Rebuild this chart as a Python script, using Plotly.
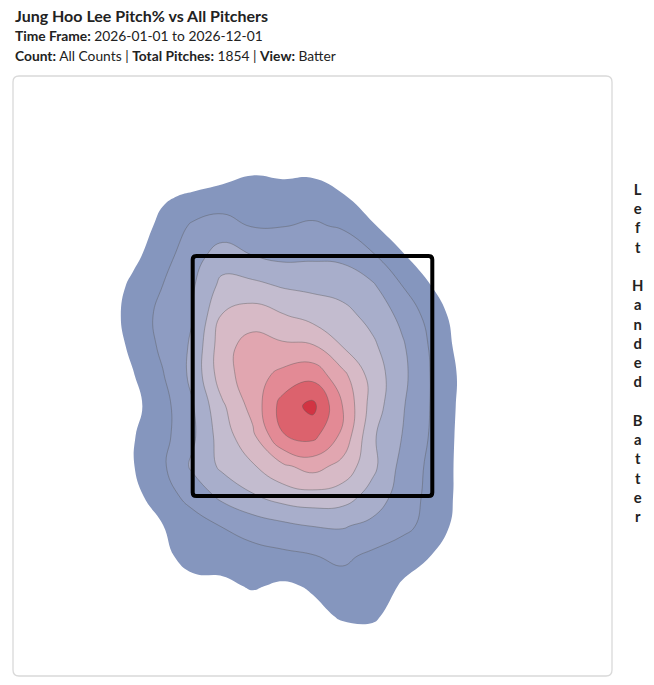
import plotly.graph_objects as go

# plate location grid (feet, catcher/batter view) and estimated density level
plate_x = [-1.75, -1.5, -1.25, -1.0, -0.75, -0.5, -0.25, 0.0, 0.25, 0.5, 0.75, 1.0, 1.25, 1.5]
plate_z = [4.0, 3.75, 3.5, 3.25, 3.0, 2.75, 2.5, 2.25, 2.0, 1.75, 1.5, 1.25, 1.0, 0.75, 0.5, 0.25, 0.0, -0.25]

density = [
    [0, 0, 0, 0, 0, 0.1, 0.2, 0.2, 0.1, 0, 0, 0, 0, 0],
    [0, 0, 0.1, 0.1, 0.43, 0.82, 0.72, 0.72, 0.27, 0.1, 0, 0, 0, 0],
    [0, 0.2, 0.85, 1.15, 1.37, 1.39, 1.36, 1.42, 1.08, 0.4, 0.1, 0, 0, 0],
    [0, 0.4, 1.28, 2.15, 2.43, 1.95, 1.97, 2.13, 1.89, 1.11, 0.3, 0, 0, 0],
    [0, 0.75, 1.61, 2.62, 3.47, 3.02, 2.77, 2.83, 2.78, 2.14, 1.11, 0.3, 0, 0],
    [0.3, 1.22, 2.01, 2.9, 4.31, 4.27, 3.92, 3.79, 3.62, 3.15, 2.0, 0.97, 0.2, 0],
    [0.4, 1.4, 2.29, 2.97, 5.1, 5.54, 5.1, 4.63, 4.34, 3.69, 2.75, 1.56, 0.45, 0],
    [0.3, 1.22, 2.21, 3.15, 5.67, 6.4, 6.17, 6.1, 4.97, 4.19, 3.13, 1.82, 0.6, 0],
    [0.1, 0.93, 1.93, 3.25, 5.6, 6.55, 7.32, 7.7, 6.33, 4.6, 3.26, 1.9, 0.8, 0],
    [0, 0.7, 1.64, 2.93, 4.85, 6.36, 8.4, 9.3, 7.0, 4.55, 3.1, 1.9, 0.75, 0],
    [0.1, 0.93, 1.69, 2.83, 4.52, 5.78, 7.95, 8.3, 6.77, 4.15, 2.98, 1.85, 0.7, 0],
    [0.05, 0.95, 1.84, 3.18, 4.22, 4.9, 5.82, 6.4, 5.68, 4.27, 2.68, 1.73, 0.7, 0],
    [0, 0.7, 1.54, 2.38, 3.25, 3.9, 4.44, 4.64, 4.48, 3.61, 2.55, 1.68, 0.7, 0],
    [0, 0.3, 0.98, 1.52, 2.04, 2.45, 2.75, 3.02, 3.08, 2.75, 2.3, 1.6, 0.55, 0],
    [0, 0.1, 0.8, 1.33, 1.41, 1.62, 1.78, 1.95, 2.2, 1.8, 1.4, 0.97, 0.2, 0],
    [0, 0, 0.3, 0.75, 0.8, 1.1, 0.85, 1.1, 1.6, 1.55, 0.9, 0.3, 0, 0],
    [0, 0, 0, 0.2, 0.3, 0.4, 0.5, 0.75, 1.1, 1.15, 0.6, 0.1, 0, 0],
    [0, 0, 0, 0, 0, 0, 0.1, 0.3, 0.5, 0.5, 0.3, 0, 0, 0],
]

# strike zone
zone_left, zone_right = -1.0, 1.0
zone_bottom, zone_top = 1.0, 3.0

band_colors = [
    "rgba(255,255,255,0)",
    "#8596be", "#8e9cc2", "#a8aecb", "#c3bccf", "#d7bac6",
    "#e1a6b0", "#e38a95", "#dc626d", "#d23443",
]

# stepped colorscale so each band is one flat colour
n = len(band_colors) - 1
cscale = []
for k, c in enumerate(band_colors):
    lo = max(0, (k - 0.5) / n)
    hi = min(1, (k + 0.5) / n)
    cscale.append([lo, c])
    cscale.append([hi, c])

fig = go.Figure()

fig.add_trace(go.Contour(
    x=plate_x, y=plate_z, z=density,
    autocontour=False,
    contours=dict(start=1, end=9, size=1, coloring="fill", showlines=False),
    colorscale=cscale,
    showscale=False,
    line=dict(width=0, smoothing=1.3),
    hoverinfo="skip",
))
fig.add_trace(go.Contour(
    x=plate_x, y=plate_z, z=density,
    autocontour=False,
    contours=dict(start=2, end=9, size=1, coloring="none"),
    line=dict(width=0.6, color="rgba(90,90,90,0.7)", smoothing=1.3),
    showscale=False,
    hoverinfo="skip",
))

# strike zone box with slightly rounded corners
r = 0.03
zl, zr, zb, zt = zone_left, zone_right, zone_bottom, zone_top
zone_path = (f"M {zl + r},{zb} L {zr - r},{zb} Q {zr},{zb} {zr},{zb + r} "
             f"L {zr},{zt - r} Q {zr},{zt} {zr - r},{zt} L {zl + r},{zt} "
             f"Q {zl},{zt} {zl},{zt - r} L {zl},{zb + r} Q {zl},{zb} {zl + r},{zb} Z")
fig.add_shape(type="path", path=zone_path, line=dict(color="black", width=4))

# panel frame
fig.add_shape(type="path", xref="paper", yref="paper",
              path="M 0.01,0 L 0.99,0 Q 1,0 1,0.01 L 1,0.99 Q 1,1 0.99,1 L 0.01,1 Q 0,1 0,0.99 L 0,0.01 Q 0,0 0.01,0 Z",
              line=dict(color="#d9d9d9", width=1.3))

fig.add_annotation(x=0, y=1.1, xref="paper", yref="paper", xanchor="left", yanchor="middle",
                   text="<b>Jung Hoo Lee Pitch% vs All Pitchers</b>", showarrow=False,
                   font=dict(size=16, color="#222"))
fig.add_annotation(x=0, y=1.068, xref="paper", yref="paper", xanchor="left", yanchor="middle",
                   text="<b>Time Frame:</b> 2026-01-01 to 2026-12-01", showarrow=False,
                   font=dict(size=13.8, color="#222"))
fig.add_annotation(x=0, y=1.035, xref="paper", yref="paper", xanchor="left", yanchor="middle",
                   text="<b>Count:</b> All Counts | <b>Total Pitches:</b> 1854 | <b>View:</b> Batter",
                   showarrow=False, font=dict(size=13.8, color="#222"))

side = "Left Handed Batter"
fig.add_annotation(x=1.0434, y=0.54, xref="paper", yref="paper", xanchor="center", yanchor="middle",
                   text="<b>" + "<br>".join(ch if ch != " " else "&nbsp;" for ch in side) + "</b>",
                   showarrow=False, font=dict(size=14.8, color="#222"))

fig.update_layout(
    width=654, height=685,
    margin=dict(l=13, r=42, t=76, b=9),
    paper_bgcolor="white",
    plot_bgcolor="white",
    font=dict(family="Lato, sans-serif", color="#222"),
    xaxis=dict(range=[-2.5, 2.5], visible=False, fixedrange=True),
    yaxis=dict(range=[-0.5, 4.5], visible=False, fixedrange=True),
    showlegend=False,
)

fig.write_html("out.html", config={"displayModeBar": False},
               post_script="document.body.style.margin='0px';")
